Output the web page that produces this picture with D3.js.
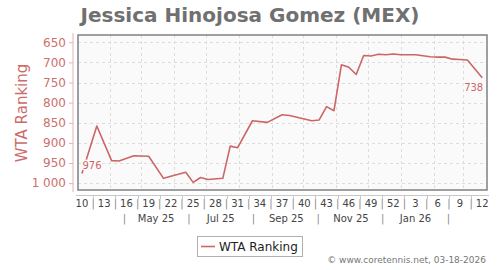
<!DOCTYPE html>
<html><head><meta charset="utf-8">
<script src="https://cdn.jsdelivr.net/npm/d3@7"></script>
<style>
html,body{margin:0;padding:0;background:#fff;}
svg{display:block;font-family:"DejaVu Sans",sans-serif;}
</style></head>
<body><svg id="c" width="500" height="270"></svg>
<script>
const titleText = "Jessica Hinojosa Gomez (MEX)";
const seriesName = "WTA Ranking";
const dates = ["2025-03-06","2025-03-20","2025-04-03","2025-04-10","2025-04-24","2025-05-08","2025-05-22",
  "2025-06-12","2025-06-19","2025-06-26","2025-07-03","2025-07-17","2025-07-24","2025-07-31","2025-08-14",
  "2025-08-28","2025-09-11","2025-09-18","2025-10-09","2025-10-16","2025-10-23","2025-10-30","2025-11-06",
  "2025-11-13","2025-11-20","2025-11-27","2025-12-04","2025-12-11","2025-12-18","2025-12-25","2026-01-01",
  "2026-01-15","2026-01-29","2026-02-05","2026-02-12","2026-02-19","2026-02-26","2026-03-05","2026-03-19"];
const ranks = [976,858,944,945,932,933,988,973,998,986,991,988,908,912,845,849,830,832,845,843,810,820,706,
  712,730,683,684,680,681,679,681,681,686,687,687,692,693,694,738];
const weekLabels = ["10","13","16","19","22","25","28","31","34","37","40","43","46","49","52","3","6","9","12"];
const weekLabelStart = "2025-03-06";
const monthLabels = ["May 25","Jul 25","Sep 25","Nov 25","Jan 26"];
const monthLabelDates = ["2025-05-15","2025-07-15","2025-09-15","2025-11-15","2026-01-15"];
const monthSepDates = ["2025-04-15","2025-06-15","2025-08-15","2025-10-15","2025-12-15","2026-02-15"];
const monthGridDates = ["2025-04-01","2025-05-01","2025-06-01","2025-07-01","2025-08-01","2025-09-01",
  "2025-10-01","2025-11-01","2025-12-01","2026-01-01","2026-02-01","2026-03-01"];
const yTicks = [650,700,750,800,850,900,950,1000];
const credit = "\u00a9 www.coretennis.net, 03-18-2026";

const parse = d3.utcParse("%Y-%m-%d");
const svg = d3.select("#c");
const L = 78, R = 487, T = 35, B = 190;
const lineColor = "#cc6666";

const x = d3.scaleUtc().domain([new Date(Date.UTC(2025,2,2,6)), new Date(Date.UTC(2026,2,23,12))]).range([L, R]);
const y = d3.scaleLinear().domain([632, 1017]).range([T, B]);
const fmt = d3.formatLocale({decimal: ".", thousands: "\u00a0", grouping: [3], currency: ["", ""]}).format(",d");

// title
svg.append("text").attr("x", 250).attr("y", 22).attr("text-anchor", "middle")
  .attr("font-size", 20).attr("font-weight", "bold").attr("fill", "#707070").text(titleText);

// plot background
svg.append("rect").attr("x", L).attr("y", T).attr("width", R - L).attr("height", B - T).attr("fill", "#fafafa");

// gridlines
svg.append("g").selectAll("line").data(yTicks).join("line")
  .attr("x1", L).attr("x2", R).attr("y1", d => Math.round(y(d)) + 0.5).attr("y2", d => Math.round(y(d)) + 0.5)
  .attr("stroke", "#dcdcdc").attr("stroke-dasharray", "3,3");
svg.append("g").selectAll("line").data(monthGridDates.map(parse)).join("line")
  .attr("x1", d => Math.round(x(d)) + 0.5).attr("x2", d => Math.round(x(d)) + 0.5).attr("y1", T).attr("y2", B)
  .attr("stroke", "#dcdcdc").attr("stroke-dasharray", "3,3");

// border
svg.append("rect").attr("x", L).attr("y", T).attr("width", R - L).attr("height", B - T)
  .attr("fill", "none").attr("stroke", "#808080").attr("stroke-width", 1.5);

// y axis
const yAxis = svg.append("g").attr("transform", `translate(73,0)`)
  .call(d3.axisLeft(y).tickValues(yTicks).tickFormat(fmt).tickSize(4).tickPadding(3));
yAxis.select(".domain").attr("stroke", "#e0b4b4").attr("d", `M0,${T - 2}V${B + 2}`);
yAxis.selectAll(".tick line").attr("stroke", "#e0b4b4");
yAxis.selectAll(".tick text").attr("fill", "#cc7070").attr("font-size", 12).attr("font-family", "DejaVu Sans");

svg.append("text").attr("transform", "translate(27,113) rotate(-90)").attr("text-anchor", "middle")
  .attr("font-size", 15).attr("fill", "#cc6b6b").text(seriesName);

// x axis line
svg.append("line").attr("x1", L - 2).attr("x2", R + 2).attr("y1", 195.5).attr("y2", 195.5).attr("stroke", "#c8c8c8");

const start = parse(weekLabelStart);
const weekPos = weekLabels.map((w, i) => x(d3.utcDay.offset(start, 21 * i)));
svg.append("g").selectAll("text").data(weekLabels).join("text")
  .attr("x", (d, i) => weekPos[i]).attr("y", 207).attr("text-anchor", "middle")
  .attr("font-size", 10).attr("fill", "#444").text(d => d);
const sepPos = weekPos.slice(1).map((p, i) => (p + weekPos[i]) / 2);
svg.append("g").selectAll("line").data(sepPos).join("line")
  .attr("x1", d => Math.round(d) + 0.5).attr("x2", d => Math.round(d) + 0.5).attr("y1", 196).attr("y2", 199)
  .attr("stroke", "#c8c8c8");
svg.append("g").selectAll("text").data(sepPos).join("text")
  .attr("x", d => d).attr("y", 207).attr("text-anchor", "middle")
  .attr("font-size", 10).attr("fill", "#888").text("|");

svg.append("g").selectAll("text").data(monthLabels).join("text")
  .attr("x", (d, i) => x(parse(monthLabelDates[i]))).attr("y", 222).attr("text-anchor", "middle")
  .attr("font-size", 10).attr("fill", "#444").text(d => d);
svg.append("g").selectAll("text").data(monthSepDates).join("text")
  .attr("x", d => x(parse(d))).attr("y", 222).attr("text-anchor", "middle")
  .attr("font-size", 10).attr("fill", "#888").text("|");

// series line
const pts = dates.map((d, i) => ({d: parse(d), v: ranks[i]}));
svg.append("path").datum(pts)
  .attr("d", d3.line().x(p => x(p.d)).y(p => y(p.v)))
  .attr("fill", "none").attr("stroke", lineColor).attr("stroke-width", 1.6).attr("stroke-linejoin", "round");

// point labels
const first = pts[0], last = pts[pts.length - 1];
svg.append("text").attr("x", x(first.d) + 0.5).attr("y", y(first.v) - 4)
  .attr("font-size", 10).attr("fill", lineColor)
  .attr("stroke", "#fafafa").attr("stroke-width", 3).attr("paint-order", "stroke").text(first.v);
svg.append("text").attr("x", x(last.d) + 1).attr("y", y(last.v) + 13).attr("text-anchor", "end")
  .attr("font-size", 10).attr("fill", lineColor)
  .attr("stroke", "#fafafa").attr("stroke-width", 3).attr("paint-order", "stroke").text(last.v);

// legend
svg.append("rect").attr("x", 197.5).attr("y", 236.5).attr("width", 105).attr("height", 20)
  .attr("fill", "#fff").attr("stroke", "#b0b0b0");
svg.append("line").attr("x1", 201).attr("x2", 215).attr("y1", 246.5).attr("y2", 246.5)
  .attr("stroke", lineColor).attr("stroke-width", 1.6);
svg.append("text").attr("x", 219).attr("y", 251).attr("font-size", 12).attr("fill", "#222").text(seriesName);

// credit
svg.append("text").attr("x", 486).attr("y", 263).attr("text-anchor", "end")
  .attr("font-size", 9).attr("fill", "#777").text(credit);
</script></body></html>
